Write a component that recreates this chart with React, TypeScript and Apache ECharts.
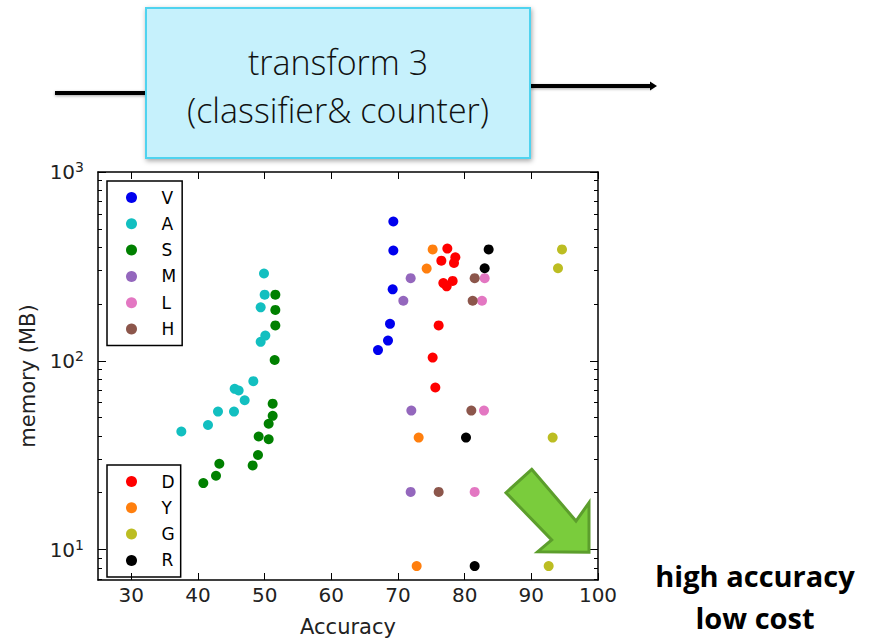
import React, { useEffect, useRef } from 'react';
import * as echarts from 'echarts';

// ---- data ----
const xTicks = [30, 40, 50, 60, 70, 80, 90, 100];
const yMajorTicks = [10, 100, 1000];
const yMinorTicks = [7, 8, 9, 20, 30, 40, 50, 60, 70, 80, 90, 200, 300, 400, 500, 600, 700, 800, 900];

const seriesNames = ['V', 'A', 'S', 'M', 'L', 'H', 'D', 'Y', 'G', 'R'];
const seriesColors = ['#0000ee', '#12bfc0', '#008000', '#9467bd', '#e377c2', '#8c564b', '#ff0000', '#ff7f0e', '#bcbd22', '#000000'];
const legendTop = ['V', 'A', 'S', 'M', 'L', 'H'];
const legendBottom = ['D', 'Y', 'G', 'R'];

const dataV = [[69.3, 547], [69.3, 384], [69.2, 239], [68.8, 157], [68.5, 128], [67.0, 114]];
const dataA = [[49.9, 290], [50.0, 224], [49.4, 192], [50.1, 136], [49.4, 126], [48.3, 78], [45.5, 71], [46.1, 69.6], [47.0, 61.8], [43.0, 53.8], [45.4, 53.8], [41.5, 45.7], [37.5, 42.2]];
const dataS = [[51.6, 224], [51.6, 186], [51.6, 154], [51.5, 101], [51.2, 59.3], [51.2, 51.1], [50.6, 46.4], [49.1, 39.7], [50.6, 38.4], [49.0, 31.7], [43.2, 28.5], [48.2, 27.9], [42.7, 24.6], [40.8, 22.5]];
const dataM = [[71.9, 274], [70.8, 208], [72.0, 54.5], [71.9, 20.2]];
const dataL = [[83.0, 274], [82.6, 208], [82.9, 54.5], [81.5, 20.2]];
const dataH = [[81.5, 274], [81.2, 208], [81.0, 54.5], [76.1, 20.2]];
const dataD = [[77.4, 393], [76.5, 339], [78.6, 353], [78.4, 330], [76.8, 258], [77.3, 248], [78.2, 265], [76.1, 154], [75.2, 104], [75.6, 72.2]];
const dataY = [[75.2, 389], [74.3, 308], [73.1, 39.2], [72.8, 8.18]];
const dataG = [[94.6, 389], [94.0, 309], [93.2, 39.2], [92.6, 8.18]];
const dataR = [[83.6, 389], [83.0, 309], [80.2, 39.2], [81.5, 8.18]];
const seriesData = [dataV, dataA, dataS, dataM, dataL, dataH, dataD, dataY, dataG, dataR];

const X_MIN = 25;
const X_MAX = 100;
const Y_MIN = 6.9;
const Y_MAX = 1000;

const tickFont = 'DejaVu Sans';

export default function App() {
  const ref = useRef<HTMLDivElement>(null);
  useEffect(() => {
    if (!ref.current) return;
    const chart = echarts.init(ref.current, null, { renderer: 'svg' });

    const legendCommon = {
      orient: 'vertical' as const,
      left: 107,
      icon: 'circle',
      itemWidth: 50,
      itemHeight: 11,
      itemGap: 9.3,
      selectedMode: false,
      borderColor: '#000',
      borderWidth: 1.5,
      borderRadius: 0,
      textStyle: { fontFamily: tickFont, fontSize: 17, color: '#000' },
    };

    const yBase = {
      type: 'log' as const,
      logBase: 10,
      min: Y_MIN,
      max: Y_MAX,
      splitLine: { show: false },
    };

    const option: any = {
      animation: false,
      backgroundColor: '#fff',
      grid: { left: 98, top: 172, width: 500, height: 413 },
      legend: [
        { ...legendCommon, top: 181, padding: [8, 6, 8, 19], data: legendTop },
        { ...legendCommon, top: 465, padding: [8, 6, 8, 19], data: legendBottom },
      ],
      xAxis: [
        {
          type: 'value',
          min: X_MIN,
          max: X_MAX,
          position: 'bottom',
          name: 'Accuracy',
          nameLocation: 'middle',
          nameGap: 36,
          nameTextStyle: { fontFamily: tickFont, fontSize: 21, color: '#222' },
          axisLine: { show: true, lineStyle: { color: '#000', width: 1.5 } },
          axisTick: { show: true, inside: true, length: 7, customValues: xTicks, lineStyle: { color: '#000' } },
          axisLabel: { show: true, customValues: xTicks, margin: 5, fontFamily: tickFont, fontSize: 20, color: '#222' },
          splitLine: { show: false },
        },
        {
          type: 'value',
          min: X_MIN,
          max: X_MAX,
          position: 'top',
          axisLine: { show: true, lineStyle: { color: '#000', width: 1.5 } },
          axisTick: { show: true, inside: true, length: 7, customValues: xTicks, lineStyle: { color: '#000' } },
          axisLabel: { show: false },
          splitLine: { show: false },
        },
      ],
      yAxis: [
        {
          ...yBase,
          position: 'left',
          name: 'memory (MB)',
          nameLocation: 'middle',
          nameRotate: 90,
          nameGap: 46,
          nameTextStyle: { fontFamily: tickFont, fontSize: 21, color: '#222' },
          axisLine: { show: true, lineStyle: { color: '#000', width: 1.5 } },
          axisTick: { show: true, inside: true, length: 8, customValues: yMajorTicks, lineStyle: { color: '#000' } },
          axisLabel: {
            show: true,
            customValues: yMajorTicks,
            margin: 14,
            fontFamily: tickFont,
            fontSize: 20,
            color: '#222',
            lineHeight: 24,
            formatter: (v: number) => '10{sup|' + Math.round(Math.log10(v)) + '}',
            rich: {
              sup: { fontFamily: tickFont, fontSize: 14, color: '#222', lineHeight: 13, verticalAlign: 'top' },
            },
          },
        },
        {
          ...yBase,
          position: 'left',
          axisLine: { show: false },
          axisTick: { show: true, inside: true, length: 4, customValues: yMinorTicks, lineStyle: { color: '#000' } },
          axisLabel: { show: false },
        },
        {
          ...yBase,
          position: 'right',
          axisLine: { show: true, lineStyle: { color: '#000', width: 1.5 } },
          axisTick: { show: true, inside: true, length: 8, customValues: yMajorTicks, lineStyle: { color: '#000' } },
          axisLabel: { show: false },
        },
        {
          ...yBase,
          position: 'right',
          axisLine: { show: false },
          axisTick: { show: true, inside: true, length: 4, customValues: yMinorTicks, lineStyle: { color: '#000' } },
          axisLabel: { show: false },
        },
      ],
      series: seriesNames.map((name, i) => ({
        name,
        type: 'scatter',
        xAxisIndex: 0,
        yAxisIndex: 0,
        symbol: 'circle',
        symbolSize: 10,
        itemStyle: { color: seriesColors[i], opacity: 1 },
        emphasis: { disabled: true },
        data: seriesData[i],
      })),
      graphic: [
        {
          type: 'rect',
          shape: { x: 55, y: 91, width: 92, height: 4 },
          style: { fill: '#000', shadowBlur: 3, shadowColor: 'rgba(0,0,0,0.35)', shadowOffsetY: 1 },
        },
        {
          type: 'rect',
          shape: { x: 530, y: 84, width: 122, height: 4 },
          style: { fill: '#000', shadowBlur: 3, shadowColor: 'rgba(0,0,0,0.35)', shadowOffsetY: 1 },
        },
        {
          type: 'polygon',
          shape: { points: [[650, 81.5], [657, 86], [650, 90.5]] },
          style: { fill: '#000' },
        },
        {
          type: 'rect',
          shape: { x: 146, y: 8, width: 384, height: 150 },
          style: {
            fill: '#c6f1fc',
            stroke: '#4fd3ef',
            lineWidth: 2,
            shadowBlur: 5,
            shadowOffsetX: 1,
            shadowOffsetY: 2,
            shadowColor: 'rgba(0,0,0,0.35)',
          },
        },
        {
          type: 'text',
          x: 338,
          y: 86,
          style: {
            text: 'transform 3\n(classifier& counter)',
            fontFamily: 'Open Sans',
            fontWeight: 300,
            fontSize: 34,
            lineHeight: 48,
            fill: '#111',
            align: 'center',
            verticalAlign: 'middle',
          },
        },
        {
          type: 'polygon',
          z: 100,
          shape: {
            points: [[531.7, 469.3], [576, 521], [589, 502.7], [589, 552.3], [537.7, 551.7], [551.7, 540], [506, 492.7]],
          },
          style: { fill: '#7acc3c', stroke: '#5c9e2c', lineWidth: 3, lineJoin: 'miter' },
        },
        {
          type: 'text',
          x: 755,
          y: 596,
          style: {
            text: 'high accuracy\nlow cost',
            fontFamily: 'Open Sans',
            fontWeight: 'bold',
            fontSize: 29,
            lineHeight: 42,
            fill: '#000',
            align: 'center',
            verticalAlign: 'middle',
          },
        },
      ],
    };

    chart.setOption(option);
    return () => chart.dispose();
  }, []);

  return (
    <div
      ref={ref}
      style={{ position: 'fixed', left: 0, top: 0, width: 869, height: 642, background: '#fff' }}
    />
  );
}
